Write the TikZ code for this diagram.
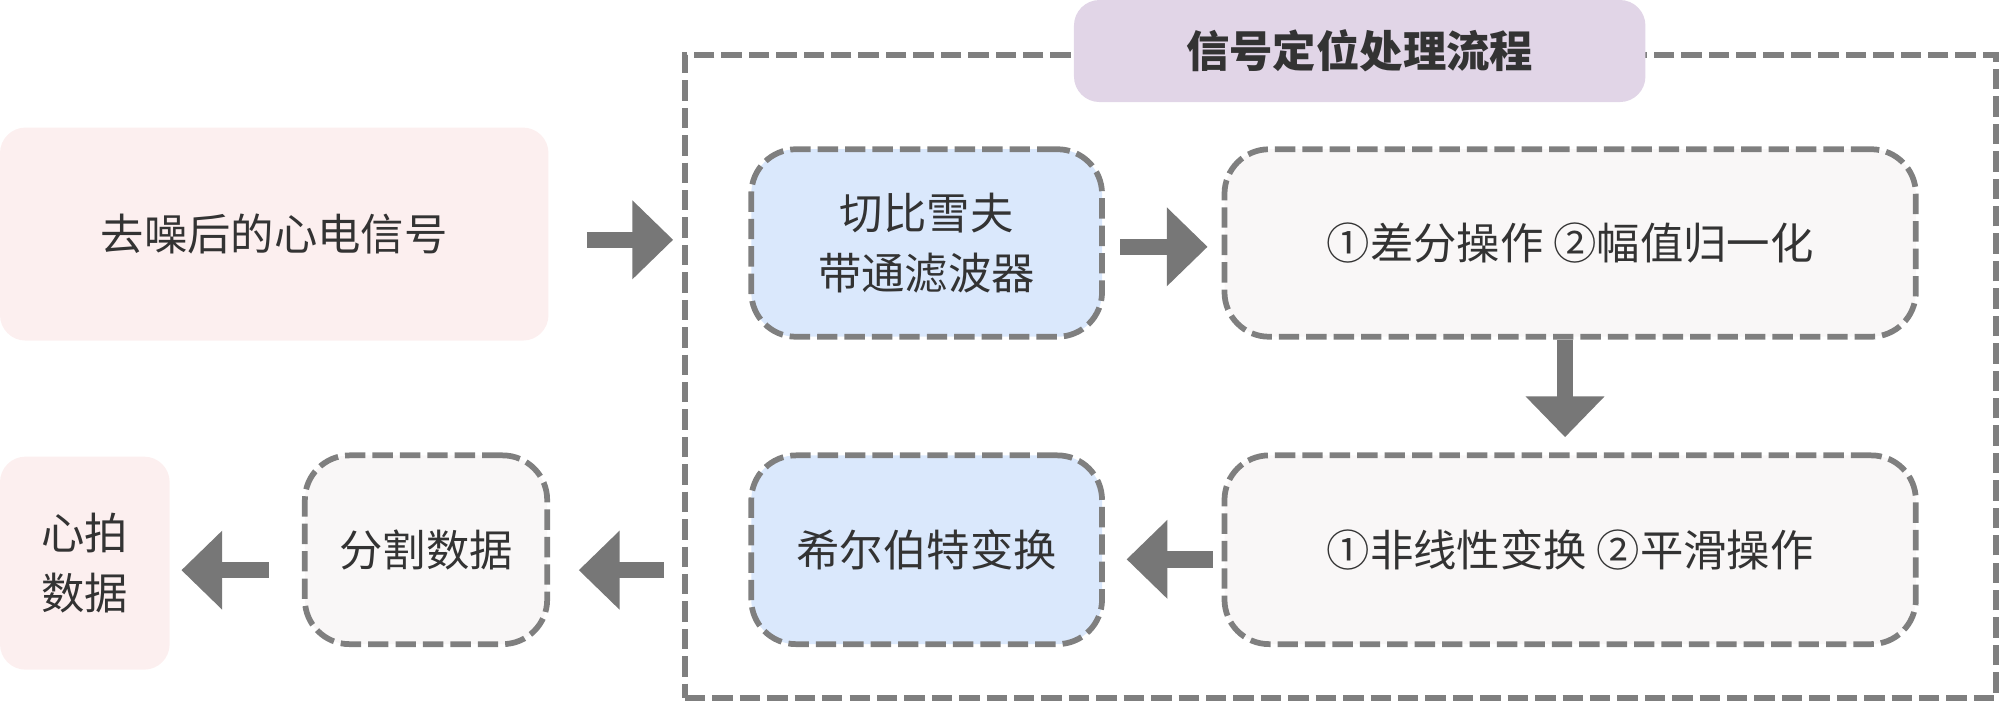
\documentclass[tikz,border=0pt]{standalone}
\usepackage{fontspec}
\newfontfamily\cjk{Noto Sans CJK SC}
\usetikzlibrary{arrows.meta}
\definecolor{pinkfill}{HTML}{FCEFEF}
\definecolor{bluefill}{HTML}{DAE8FC}
\definecolor{grayfill}{HTML}{F9F7F7}
\definecolor{purplefill}{HTML}{E1D5E7}
\definecolor{dashc}{HTML}{7F7F7F}
\definecolor{arrowc}{HTML}{777777}
\definecolor{textc}{HTML}{333333}
\begin{document}
\begin{tikzpicture}[x=1pt,y=-1pt,
  txt/.style={font=\cjk\fontsize{34}{47}\selectfont, text=textc, align=center, inner sep=0pt},
  solidbox/.style={txt, rounded corners=20pt},
  dbox/.style={txt, draw=dashc, line width=4.5pt, dash pattern=on 16pt off 5.5pt, rounded corners=35pt},
  blk/.style={draw=arrowc, line width=13pt, -{Triangle[length=32pt,width=60pt]}}
]
\useasboundingbox (0,0) rectangle (1568,549.6);

% outer dashed frame
\node[draw=dashc, line width=4.5pt, dash pattern=on 16pt off 5.5pt, minimum width=1028pt, minimum height=504pt, inner sep=0pt] (outer) at (1051,295) {};

% title
\node[solidbox, fill=purplefill, minimum width=448pt, minimum height=80pt, font=\cjk\bfseries\fontsize{34}{40}\selectfont] (T) at (1066,40) {信号定位处理流程};

% nodes
\node[solidbox, fill=pinkfill, minimum width=430pt, minimum height=167pt] (A) at (215,183.5) {去噪后的心电信号};
\node[dbox, fill=bluefill, minimum width=275pt, minimum height=147pt] (B) at (726.5,190.5) {切比雪夫\\带通滤波器};
\node[dbox, fill=grayfill, minimum width=542pt, minimum height=147pt] (C) at (1231,190.5) {①差分操作 ②幅值归一化};
\node[dbox, fill=grayfill, minimum width=542pt, minimum height=148pt] (D) at (1231,431) {①非线性变换 ②平滑操作};
\node[dbox, fill=bluefill, minimum width=275pt, minimum height=148pt] (E) at (726.5,431) {希尔伯特变换};
\node[dbox, fill=grayfill, minimum width=190pt, minimum height=148pt] (F) at (334,431) {分割数据};
\node[solidbox, fill=pinkfill, minimum width=133pt, minimum height=167pt] (G) at (66.5,441.5) {心拍\\数据};

% arrows
\draw[blk] ([xshift=30pt,yshift=-4.5pt]A.east) -- ([xshift=-7pt,yshift=-4.5pt]A.east -| outer.west);
\draw[blk] ([xshift=12pt,yshift=-3pt]B.east) -- ([xshift=-11pt,yshift=-3pt]C.west);
\draw[blk] ([xshift=-4pt]C.south) -- ([xshift=-4pt,yshift=12pt]D.north);
\draw[blk] ([xshift=-7pt,yshift=-7.5pt]D.west) -- ([xshift=17pt,yshift=-7.5pt]E.east);
\draw[blk] ([xshift=-14pt,yshift=-16pt]E.west -| outer.west) -- ([xshift=22.5pt,yshift=-16pt]F.east);
\draw[blk] ([xshift=-26pt,yshift=-16pt]F.west) -- ([xshift=9pt,yshift=-16pt]F.west -| G.east);
\end{tikzpicture}
\end{document}
